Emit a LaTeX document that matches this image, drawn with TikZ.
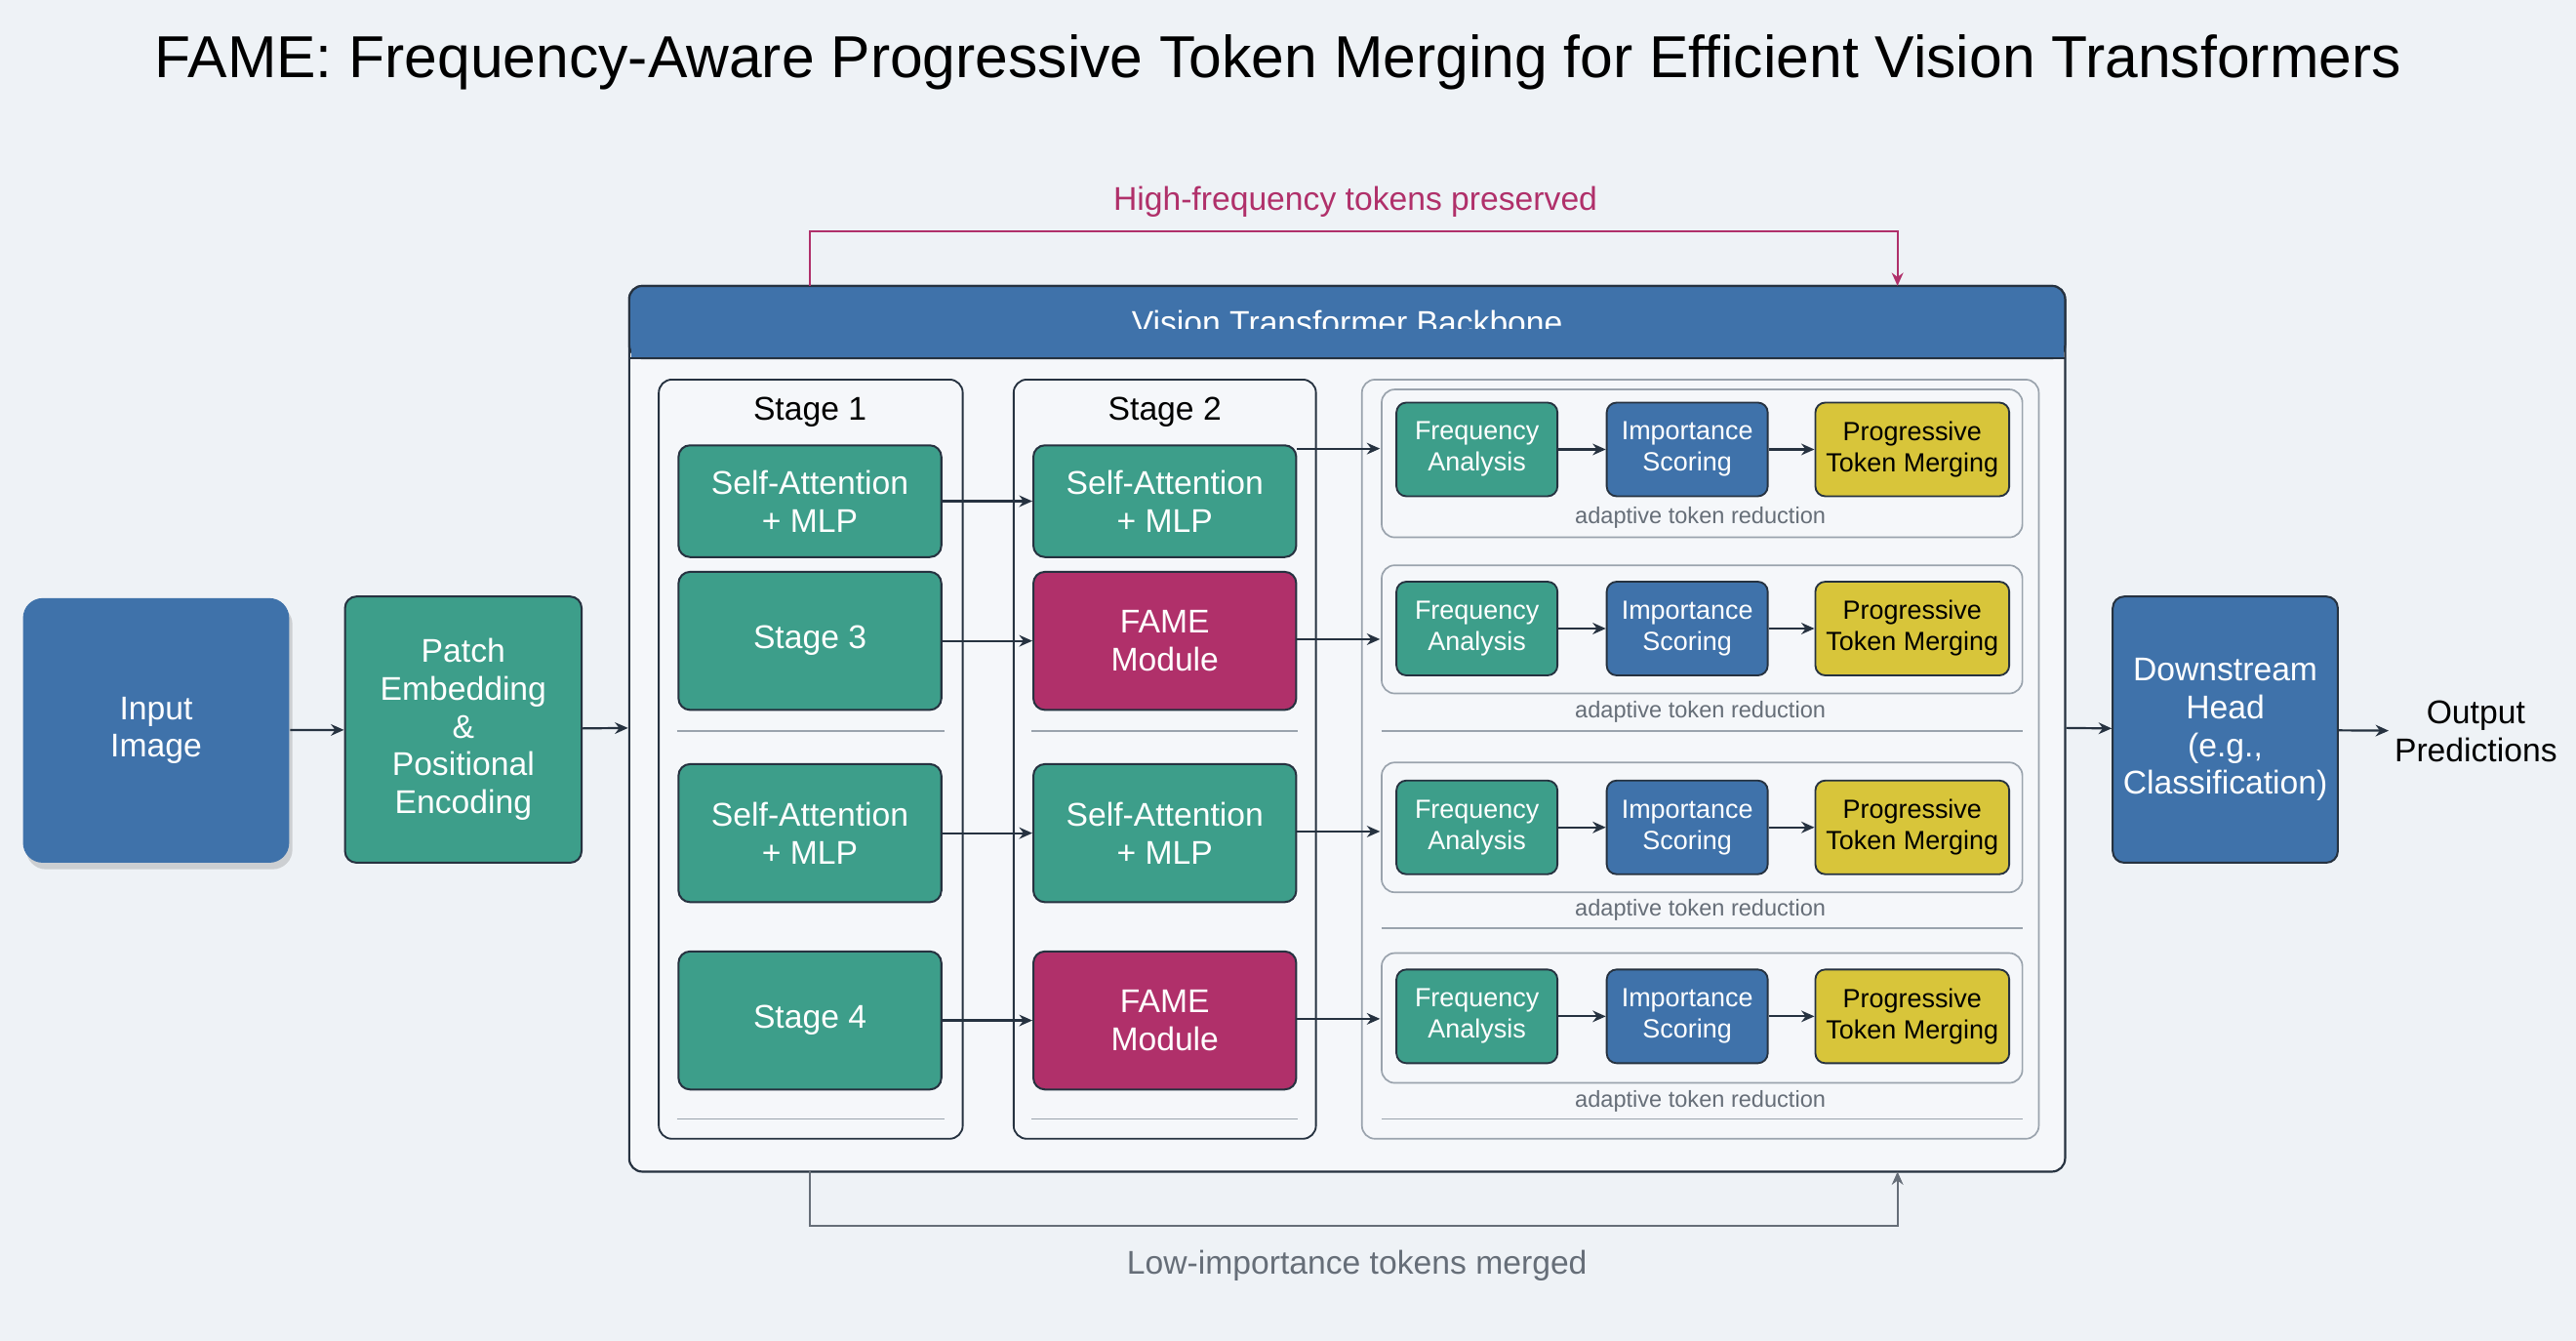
\documentclass[tikz,border=0pt]{standalone}
\usepackage{fontspec}
\setmainfont{Liberation Sans}
\usetikzlibrary{arrows.meta,shadows}
\definecolor{bg}{HTML}{EEF2F6}
\definecolor{cblue}{HTML}{3F72AA}
\definecolor{cteal}{HTML}{3D9E8A}
\definecolor{cmag}{HTML}{B0306A}
\definecolor{cyel}{HTML}{D8C53A}
\definecolor{cdark}{HTML}{263240}
\definecolor{cgray}{HTML}{9AA3AD}
\definecolor{tgray}{HTML}{666E78}
\tikzset{
 arr/.style={-{Stealth[length=8pt,width=7pt]},line width=1.3pt,draw=cdark},
 blk/.style={draw=cdark,line width=1.2pt,rounded corners=7pt,text=white,align=center,font=\fontsize{20}{23}\selectfont,inner sep=0pt},
 tealb/.style={blk,fill=cteal},
 blueb/.style={blk,fill=cblue},
 magb/.style={blk,fill=cmag},
 sm/.style={draw=cdark,line width=1.1pt,rounded corners=6pt,align=center,font=\fontsize{16}{19}\selectfont,inner sep=0pt,minimum height=57pt},
 col/.style={draw=cdark,line width=1.1pt,rounded corners=8pt},
 lite/.style={draw=cgray,line width=1pt,rounded corners=8pt},
 lbl/.style={text=tgray,font=\fontsize{14}{16}\selectfont},
}
\begin{document}
\begin{tikzpicture}[x=1pt,y=-1pt]
\fill[bg] (0,0) rectangle (1568,816);
\useasboundingbox (0,0) rectangle (1568,816);
\node (title) at (778,38) {\fontsize{36}{40}\selectfont FAME: Frequency-Aware Progressive Token Merging for Efficient Vision Transformers};
% left
\node[blueb,minimum width=162pt,minimum height=161pt,drop shadow={opacity=0.3,shadow xshift=2pt,shadow yshift=-4pt},draw=none,rounded corners=12pt] (in) at (95,444.5) {Input\\Image};
\node[tealb,minimum width=144pt,minimum height=162pt] (patch) at (282,444) {Patch\\Embedding\\\&\\Positional\\Encoding};
% backbone
\draw[col,fill=bg!60!white,line width=1.3pt] (383,174) rectangle (1257,713);
\node[draw=cdark,line width=1.3pt,fill=cblue,rounded corners=8pt,minimum width=874pt,minimum height=44pt,text=white,font=\fontsize{20}{23}\selectfont] (bb) at (820,196) {Vision Transformer Backbone};
\fill[cblue] (384,200) rectangle (1256,217.5);
\draw[cdark,line width=1.2pt] (383,218) -- (1257,218);
\node[inner sep=0pt] (bbL) at (383,443) {};
\node[inner sep=0pt] (bbR) at (1257,443) {};
\draw[col] (401,231) rectangle (586,693);
\draw[col] (617,231) rectangle (801,693);
\draw[lite] (829,231) rectangle (1241,693);
\node[font=\fontsize{20}{23}\selectfont] (s1) at (493,251) {Stage 1};
\node[font=\fontsize{20}{23}\selectfont] (s2) at (709,251) {Stage 2};
\foreach \y in {445,681}{\draw[cgray,line width=1pt] (412,\y) -- (575,\y); \draw[cgray,line width=1pt] (628,\y) -- (790,\y);}
\node[tealb,minimum width=160pt,minimum height=68pt] (a1) at (493,305) {Self-Attention\\+ MLP};
\node[tealb,minimum width=160pt,minimum height=84pt] (a2) at (493,390) {Stage 3};
\node[tealb,minimum width=160pt,minimum height=84pt] (a3) at (493,507) {Self-Attention\\+ MLP};
\node[tealb,minimum width=160pt,minimum height=84pt] (a4) at (493,621) {Stage 4};
\node[tealb,minimum width=160pt,minimum height=68pt] (b1) at (709,305) {Self-Attention\\+ MLP};
\node[magb,minimum width=160pt,minimum height=84pt] (b2) at (709,390) {FAME\\Module};
\node[tealb,minimum width=160pt,minimum height=84pt] (b3) at (709,507) {Self-Attention\\+ MLP};
\node[magb,minimum width=160pt,minimum height=84pt] (b4) at (709,621) {FAME\\Module};
\foreach \i in {1,...,4}{\draw[arr] (a\i) -- (b\i);}
% rows
\draw[lite] (841,237) rectangle (1231,327);
\draw[lite] (841,344) rectangle (1231,422);
\draw[lite] (841,464) rectangle (1231,543);
\draw[lite] (841,580) rectangle (1231,659);
\foreach \y in {445,565,681}{\draw[cgray,line width=1pt] (841,\y) -- (1231,\y);}
\foreach \i/\y/\ly in {1/273.5/315,2/382.5/433,3/503.5/554,4/618.5/670}{
 \node[sm,fill=cteal,text=white,minimum width=98pt] (f\i) at (899,\y) {Frequency\\Analysis};
 \node[sm,fill=cblue,text=white,minimum width=98pt] (m\i) at (1027,\y) {Importance\\Scoring};
 \node[sm,fill=cyel,text=black,minimum width=118pt] (p\i) at (1164,\y) {Progressive\\Token Merging};
 \node[lbl] (l\i) at (1035,\ly) {adaptive token reduction};
 \draw[arr] (f\i) -- (m\i);
 \draw[arr] (m\i) -- (p\i);
}
\coordinate (r1) at (840,273);
\coordinate (r2) at (840,389);
\coordinate (r3) at (840,506);
\coordinate (r4) at (840,620);
\draw[arr] (b1.east |- r1) -- (r1);
\foreach \i in {2,3,4}{\draw[arr] (b\i.east |- r\i) -- (r\i);}
% right
\node[blueb,minimum width=137pt,minimum height=162pt] (head) at (1354.5,444) {Downstream\\Head\\(e.g.,\\Classification)};
\node[align=center,font=\fontsize{20}{23}\selectfont] (out) at (1507,445) {Output\\Predictions};
\draw[arr] (in) -- (patch);
\draw[arr] (patch) -- (bbL);
\draw[arr] (bbR) -- (head);
\draw[arr] (head) -- (out);
% feedback
\coordinate (t1) at (493,174);
\coordinate (t2) at (1155,174);
\draw[-{Stealth[length=8pt,width=7pt]},line width=1.3pt,draw=cmag] (t1) -- ++(0,-33) -| (t2);
\node[text=cmag,font=\fontsize{20}{23}\selectfont] (hf) at (825,123) {High-frequency tokens preserved};
\coordinate (u1) at (493,713);
\coordinate (u2) at (1155,713);
\draw[-{Stealth[length=8pt,width=7pt]},line width=1.3pt,draw=tgray] (u1) -- ++(0,33) -| (u2);
\node[text=tgray,font=\fontsize{20}{23}\selectfont] (lf) at (826,770) {Low-importance tokens merged};
\end{tikzpicture}
\end{document}
